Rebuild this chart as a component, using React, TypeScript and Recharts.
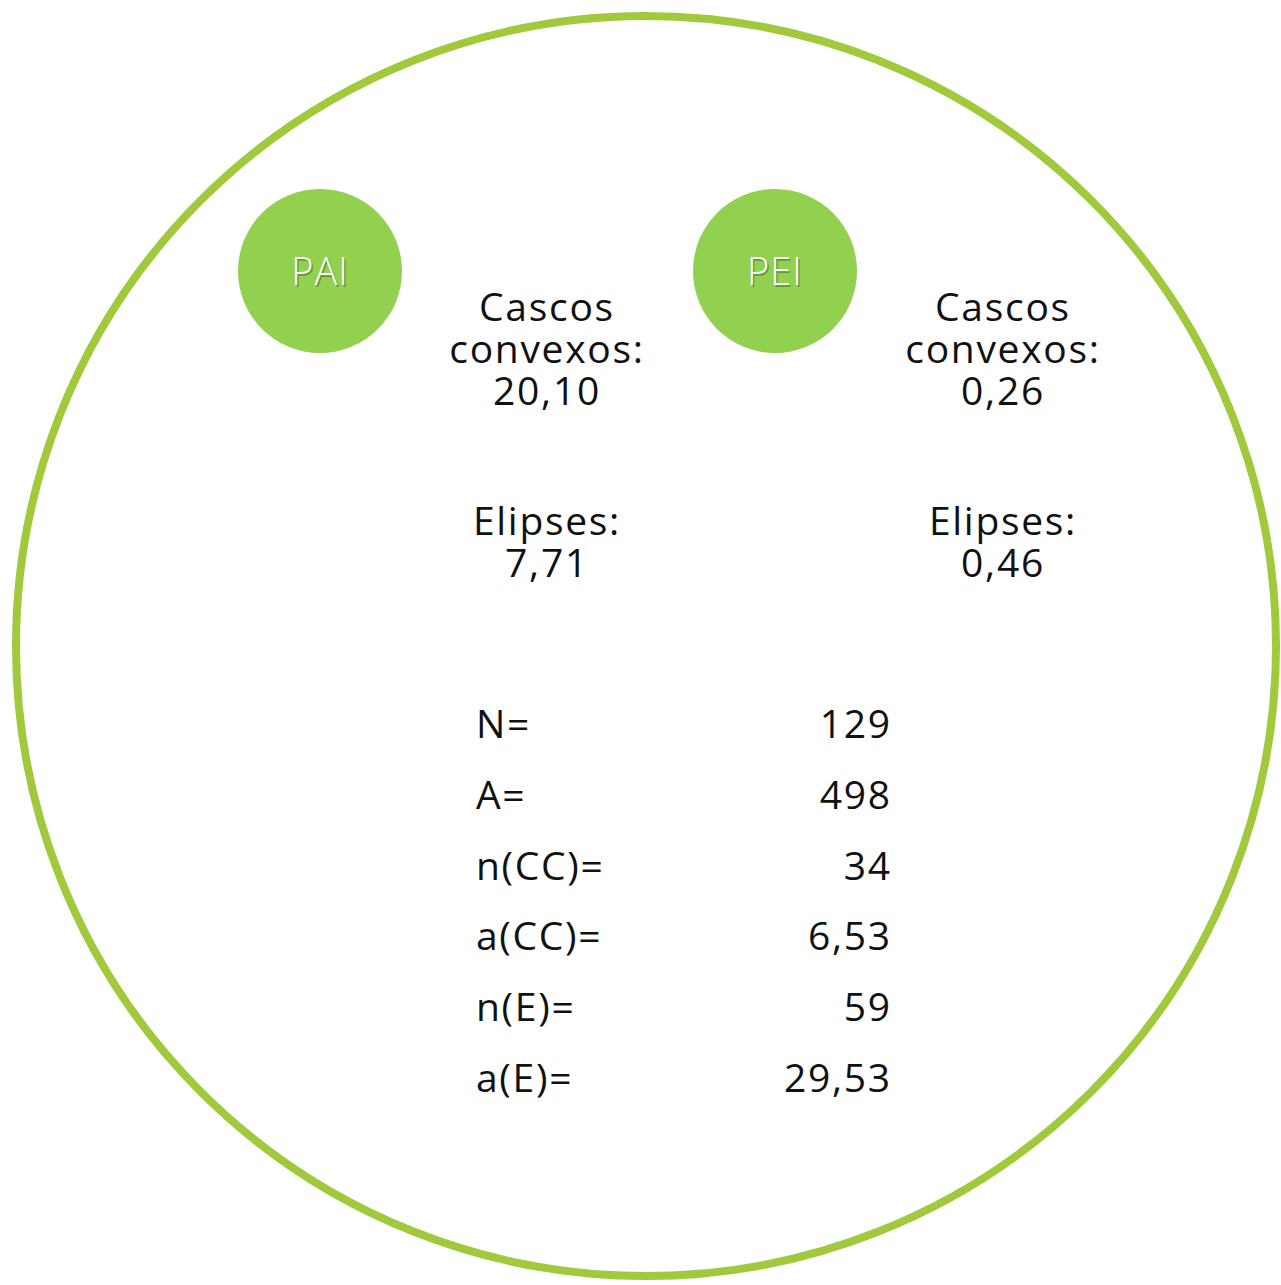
import { ScatterChart, Scatter, XAxis, YAxis } from 'recharts';

// values
const groups = ['PAI', 'PEI'];
const cascosConvexos = ['20,10', '0,26'];
const elipses = ['7,71', '0,46'];
const statLabels = ['N=', 'A=', 'n(CC)=', 'a(CC)=', 'n(E)=', 'a(E)='];
const statValues = ['129', '498', '34', '6,53', '59', '29,53'];

const W = 1281;
const H = 1285;
const GREEN = '#92d050';
const RING = '#a0c93c';
const FONT = '"Open Sans", Lato, sans-serif';

// layout in pixel-like data units (x: 0..W, y: 0..H top-down)
const ring = [{ x: 646, y: 646 }];
const badges = groups.map((g, i) => ({ x: 320 + i * 455, y: 271, label: g }));
const groupBlocks = groups.map((g, i) => ({
  x: 547 + i * 456,
  y: 321,
  lines: ['Cascos', 'convexos:', cascosConvexos[i], 'Elipses:', elipses[i]],
}));
const statRows = statLabels.map((label, i) => ({
  x: 476,
  y: 738 + i * 70.8,
  label,
  value: statValues[i],
}));

// baseline offsets of the five lines in a block
const LINE_DY = [0, 42, 42, 130, 42];

const RingShape = (props: any) => (
  <circle cx={props.cx} cy={props.cy} r={630} fill="none" stroke={RING} strokeWidth={8} />
);

const BadgeShape = (props: any) => (
  <g fontFamily={FONT} fontWeight={350} fontSize={38} letterSpacing={1} textAnchor="middle">
    <circle cx={props.cx} cy={props.cy} r={82} fill={GREEN} />
    <text x={props.cx + 1.5} y={props.cy + 15.5} fill="rgba(0,0,0,0.3)">
      {props.payload.label}
    </text>
    <text x={props.cx} y={props.cy + 14} fill="#ffffff">
      {props.payload.label}
    </text>
  </g>
);

const GroupBlockShape = (props: any) => (
  <text
    x={props.cx}
    y={props.cy}
    textAnchor="middle"
    fontFamily={FONT}
    fontWeight={370}
    fontSize={39}
    letterSpacing={1.7}
    fill="#111111"
  >
    {props.payload.lines.map((line: string, k: number) => (
      <tspan key={k} x={props.cx} dy={LINE_DY[k]}>
        {line}
      </tspan>
    ))}
  </text>
);

const StatShape = (props: any) => (
  <g fontFamily={FONT} fontWeight={370} fontSize={39} letterSpacing={1.7} fill="#111111">
    <text x={props.cx} y={props.cy} textAnchor="start">
      {props.payload.label}
    </text>
    <text x={props.cx + 415.7} y={props.cy} textAnchor="end">
      {props.payload.value}
    </text>
  </g>
);

export default function App() {
  return (
    <div style={{ position: 'absolute', left: 0, top: 0, background: '#ffffff' }}>
      <ScatterChart width={W} height={H} margin={{ top: 0, right: 0, bottom: 0, left: 0 }}>
        <XAxis type="number" dataKey="x" domain={[0, W]} hide />
        <YAxis type="number" dataKey="y" domain={[0, H]} reversed hide />
        <Scatter data={ring} shape={RingShape} isAnimationActive={false} />
        <Scatter data={badges} shape={BadgeShape} isAnimationActive={false} />
        <Scatter data={groupBlocks} shape={GroupBlockShape} isAnimationActive={false} />
        <Scatter data={statRows} shape={StatShape} isAnimationActive={false} />
      </ScatterChart>
    </div>
  );
}
